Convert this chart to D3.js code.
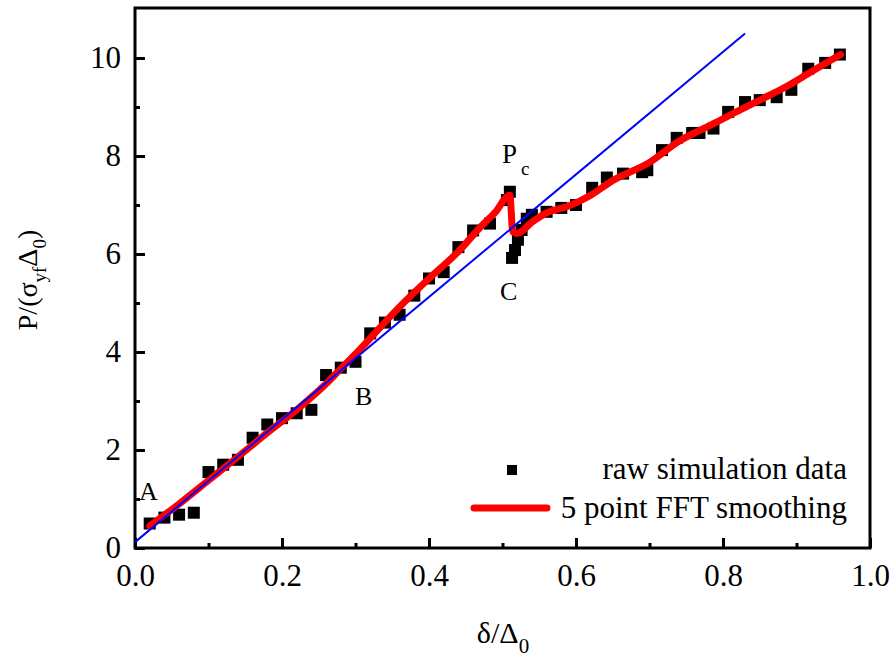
<!DOCTYPE html>
<html>
    <head>
        <meta charset="utf-8">
        <title>P versus delta</title>
        <script type="text/javascript" src="https://d3js.org/d3.v7.min.js"></script>
        <style>
            body {margin: 0; background: #fff;}
            text {font-family: "Liberation Serif", "Times New Roman", serif; fill: #000;}
        </style>
    </head>
    <body>
        <script>
            // raw simulation data
            var rawX = [0.02,0.04,0.06,0.08,0.10,0.12,0.14,0.16,0.18,0.20,0.22,0.24,0.26,0.28,0.30,0.32,0.34,0.36,0.38,0.40,
                        0.42,0.44,0.46,0.483,0.506,0.51,0.513,0.517,0.521,0.526,0.533,0.54,0.56,0.58,0.60,0.622,0.642,0.664,
                        0.69,0.697,0.717,0.737,0.758,0.768,0.787,0.807,0.83,0.85,0.873,0.893,0.916,0.939,0.959];
            var rawY = [0.50,0.62,0.68,0.72,1.55,1.70,1.80,2.25,2.52,2.65,2.75,2.82,3.53,3.68,3.80,4.38,4.60,4.76,5.15,5.50,
                        5.63,6.14,6.48,6.62,7.10,7.27,5.92,6.08,6.29,6.49,6.72,6.80,6.86,6.94,7.00,7.35,7.56,7.64,
                        7.67,7.71,8.12,8.37,8.47,8.47,8.56,8.90,9.10,9.14,9.20,9.35,9.78,9.90,10.07];

            // 5 point FFT smoothing
            var smoothX = [0.02,0.06,0.10,0.14,0.18,0.22,0.26,0.28,0.30,0.32,0.36,0.40,0.44,0.47,0.49,0.51,0.514,0.52,
                           0.54,0.56,0.59,0.62,0.65,0.70,0.74,0.79,0.81,0.85,0.89,0.92,0.96];
            var smoothY = [0.45,0.90,1.38,1.86,2.35,2.82,3.35,3.66,3.96,4.28,4.92,5.50,6.05,6.55,6.85,7.20,6.45,6.42,
                           6.65,6.84,6.98,7.20,7.50,7.87,8.30,8.68,8.84,9.14,9.45,9.72,10.07];

            // linear fit
            var fitX = [0, 0.83];
            var fitY = [0.12, 10.5];

            var xTicks = [0, 0.2, 0.4, 0.6, 0.8, 1.0];
            var yTicks = [0, 2, 4, 6, 8, 10];

            var W = 894, H = 659;
            var margin = {left: 135, top: 8, right: 24, bottom: 111};
            var w = W - margin.left - margin.right, h = H - margin.top - margin.bottom;

            var svg = d3.select("body").append("svg")
                        .attr("width", W).attr("height", H);
            var g = svg.append("g").attr("transform", "translate(" + margin.left + "," + margin.top + ")");

            var x = d3.scaleLinear().domain([0, 1.0]).range([0, w]);
            var y = d3.scaleLinear().domain([0, 11.02]).range([h, 0]);

            // axes, ticks pointing inward
            g.append("g").attr("transform", "translate(0," + h + ")")
                .call(d3.axisBottom(x).tickValues(xTicks).tickSize(-10).tickPadding(16).tickFormat(d3.format(".1f")));
            g.append("g").attr("transform", "translate(0," + h + ")")
                .call(d3.axisBottom(x).tickValues(d3.range(0.1, 1, 0.2)).tickSize(-5).tickFormat(""));
            g.append("g")
                .call(d3.axisLeft(y).tickValues(yTicks).tickSize(-10).tickPadding(14).tickFormat(d3.format("d")));
            g.append("g")
                .call(d3.axisLeft(y).tickValues([1,3,5,7,9]).tickSize(-5).tickFormat(""));

            g.selectAll(".domain").remove();
            g.selectAll(".tick line").attr("stroke", "#000").attr("stroke-width", 3);
            g.selectAll(".tick text").style("font-size", "31px").style("font-family", "Liberation Serif");

            // frame
            g.append("rect").attr("width", w).attr("height", h)
                .attr("fill", "none").attr("stroke", "#000").attr("stroke-width", 3);

            // data squares
            var sq = 12;
            g.selectAll(".pt").data(d3.zip(rawX, rawY)).enter()
                .append("rect").attr("class", "pt")
                .attr("x", function(d){ return x(d[0]) - sq/2; })
                .attr("y", function(d){ return y(d[1]) - sq/2; })
                .attr("width", sq).attr("height", sq)
                .attr("fill", "#000");

            var line = d3.line().x(function(d){ return x(d[0]); }).y(function(d){ return y(d[1]); });
            var smoothLine = d3.line().curve(d3.curveMonotoneX)
                               .x(function(d){ return x(d[0]); }).y(function(d){ return y(d[1]); });

            g.append("path").datum(d3.zip(smoothX, smoothY))
                .attr("d", smoothLine).attr("fill", "none")
                .attr("stroke", "#ff0000").attr("stroke-width", 7)
                .attr("stroke-linejoin", "round").attr("stroke-linecap", "round");

            g.append("path").datum(d3.zip(fitX, fitY))
                .attr("d", line).attr("fill", "none")
                .attr("stroke", "#0000ff").attr("stroke-width", 2);

            // annotations
            g.append("text").attr("x", 4).attr("y", 500 - margin.top).style("font-size", "26px").text("A");
            g.append("text").attr("x", 220).attr("y", 405 - margin.top).style("font-size", "26px").text("B");
            g.append("text").attr("x", 365).attr("y", 300 - margin.top).style("font-size", "26px").text("C");
            var pc = g.append("text").attr("x", 367).attr("y", 163 - margin.top).style("font-size", "27px");
            pc.append("tspan").text("P");
            pc.append("tspan").attr("dx", 4).attr("dy", 12).style("font-size", "19px").text("c");

            // legend
            var lg = svg.append("g");
            lg.append("rect").attr("x", 507).attr("y", 465).attr("width", 10).attr("height", 10).attr("fill", "#000");
            lg.append("text").attr("x", 847).attr("y", 479).attr("text-anchor", "end")
                .style("font-size", "31px").text("raw simulation data");
            lg.append("line").attr("x1", 474).attr("x2", 547).attr("y1", 508).attr("y2", 508)
                .attr("stroke", "#ff0000").attr("stroke-width", 7).attr("stroke-linecap", "round");
            lg.append("text").attr("x", 847).attr("y", 518).attr("text-anchor", "end")
                .style("font-size", "31px").text("5 point FFT smoothing");

            // axis titles
            var xt = svg.append("text").attr("x", 503).attr("y", 643).attr("text-anchor", "middle")
                        .style("font-size", "30px");
            xt.append("tspan").text("δ/Δ");
            xt.append("tspan").attr("dy", 10).style("font-size", "21px").text("0");

            var yt = svg.append("text").attr("transform", "translate(37,280) rotate(-90)")
                        .attr("text-anchor", "middle").style("font-size", "28px");
            yt.append("tspan").text("P/(σ");
            yt.append("tspan").attr("dy", 9).style("font-size", "19px").text("yf");
            yt.append("tspan").attr("dy", -9).text("Δ");
            yt.append("tspan").attr("dy", 9).style("font-size", "19px").text("0");
            yt.append("tspan").attr("dy", -9).text(")");
        </script>
    </body>
</html>
